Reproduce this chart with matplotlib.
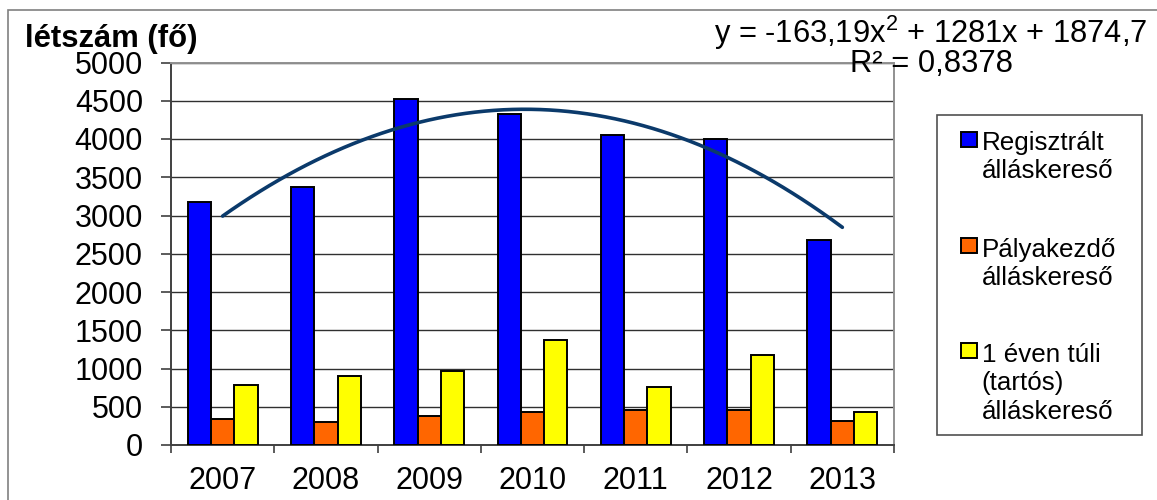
import matplotlib
matplotlib.use("Agg")
import matplotlib.pyplot as plt
from matplotlib.patches import Rectangle
import numpy as np

plt.rcParams['font.family'] = ['Liberation Sans', 'DejaVu Sans']
plt.rcParams['mathtext.fontset'] = 'custom'
plt.rcParams['mathtext.rm'] = 'Liberation Sans'
plt.rcParams['mathtext.it'] = 'Liberation Sans'

years = ['2007', '2008', '2009', '2010', '2011', '2012', '2013']
regisztralt = [3180, 3368, 4523, 4331, 4052, 3996, 2684]
palyakezdo = [336, 297, 379, 431, 461, 457, 314]
tartos = [780, 906, 967, 1369, 758, 1172, 427]
trend_coef = [-163.19, 1281, 1874.7]
series_labels = [['Regisztrált', 'álláskereső'],
                 ['Pályakezdő', 'álláskereső'],
                 ['1 éven túli', '(tartós)', 'álláskereső']]
colors = ['#0000FF', '#FF6600', '#FFFF00']
yticks = list(range(0, 5001, 500))
y_title = 'létszám (fő)'
eq_text = r'y = -163,19x$^{2}$ + 1281x + 1874,7'
r2_text = 'R² = 0,8378'

W, H = 1157, 500
fig = plt.figure(figsize=(W / 100, H / 100), dpi=100)
fig.patch.set_facecolor('white')
renderer = fig.canvas.get_renderer()


def fpx(x, y):
    return (x / W, 1 - y / H)


def fit_width(t, target):
    for _ in range(3):
        w = t.get_window_extent(renderer=renderer).width
        t.set_fontsize(t.get_fontsize() * target / w)


# outer chart border
fig.patches.append(Rectangle((8.3 / W, -0.1), 1.2, (H - 10) / H + 0.1, transform=fig.transFigure,
                             fill=False, edgecolor='#808080', linewidth=1.2))

ax = fig.add_axes([171 / W, (H - 445) / H, (894 - 171) / W, (445 - 62.5) / H])
x = np.arange(1, len(years) + 1)
bw = 0.225
for i, (vals, c) in enumerate(zip([regisztralt, palyakezdo, tartos], colors)):
    ax.bar(x + (i - 1) * bw, vals, width=bw, color=c, edgecolor='black', linewidth=1.4, zorder=3)

xs = np.linspace(1, 7, 200)
ax.plot(xs, np.polyval(trend_coef, xs), color='#0B3A6B', linewidth=2.6, zorder=4, solid_capstyle='round')

ax.set_xlim(0.5, 7.5)
ax.set_ylim(0, 5000)
ax.set_yticks(yticks)
ax.set_yticklabels([str(v) for v in yticks], fontsize=22)
ax.set_xticks(x)
ax.set_xticklabels(years, fontsize=22)
ax.set_xticks(np.arange(0.5, 7.6, 1), minor=True)
ax.tick_params(axis='x', which='major', length=0, pad=15)
ax.tick_params(axis='x', which='minor', length=6, width=1.2, color='#404040')
ax.tick_params(axis='y', length=7.2, width=1.2, color='#404040', pad=13)
ax.yaxis.grid(True, color='#303030', linewidth=1.0, zorder=0)
ax.set_axisbelow(True)
for s in ['left', 'bottom']:
    ax.spines[s].set_color('#404040')
    ax.spines[s].set_linewidth(1.4)
for s in ['top', 'right']:
    ax.spines[s].set_color('#909090')
    ax.spines[s].set_linewidth(1.4)

t = fig.text(*fpx(25, 47.5), y_title, fontsize=21, fontweight='bold', va='baseline', ha='left')
fit_width(t, 172)
t = fig.text(*fpx(1147, 43.3), eq_text, fontsize=20, va='baseline', ha='right')
fit_width(t, 433)
t = fig.text(*fpx(1013.5, 71.7), r2_text, fontsize=20, va='baseline', ha='right')
fit_width(t, 163)

# legend
lx0, ly0, lx1, ly1 = 936.7, 115, 1141.7, 435
fig.patches.append(Rectangle((lx0 / W, 1 - ly1 / H), (lx1 - lx0) / W, (ly1 - ly0) / H,
                             transform=fig.transFigure, fill=False, edgecolor='#505050', linewidth=1.2))
t0 = fig.text(*fpx(981.7, 150), series_labels[0][0], fontsize=18, va='baseline', ha='left')
fit_width(t0, 123)
lfs = t0.get_fontsize()
entry_baselines = [150, 256.7, 361.7]
line_gap = 28.5
for k, (lines, c, b) in enumerate(zip(series_labels, colors, entry_baselines)):
    fig.patches.append(Rectangle(fpx(961, b - 3.3), 16 / W, 15 / H, transform=fig.transFigure,
                                 facecolor=c, edgecolor='black', linewidth=1.4))
    for j, line in enumerate(lines):
        if k == 0 and j == 0:
            continue
        fig.text(*fpx(981.7, b + j * line_gap), line, fontsize=lfs, va='baseline', ha='left')

fig.savefig('out.png', dpi=100)
